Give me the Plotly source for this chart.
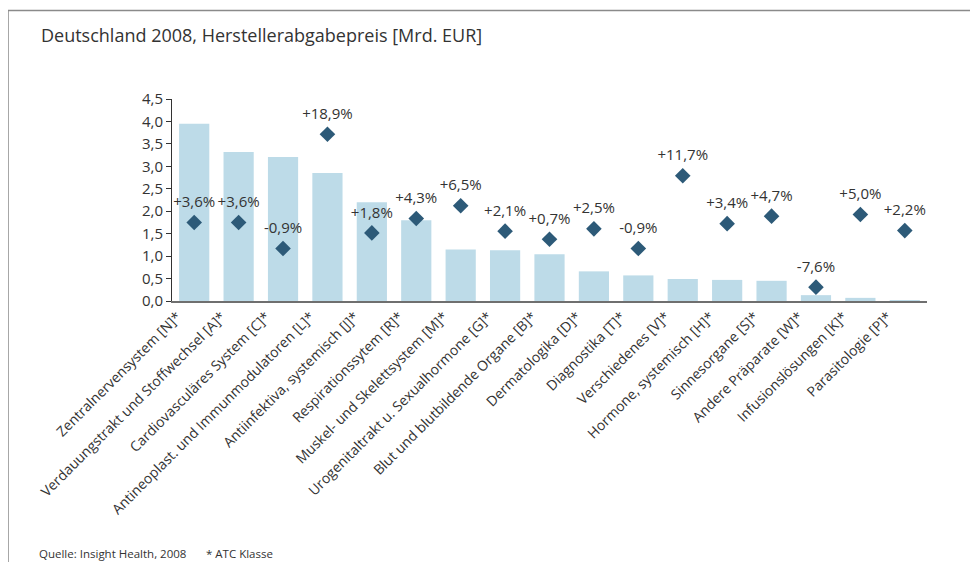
import plotly.graph_objects as go

categories = [
    "Zentralnervensystem [N]*",
    "Verdauungstrakt und Stoffwechsel [A]*",
    "Cardiovasculäres System [C]*",
    "Antineoplast. und Immunmodulatoren [L]*",
    "Antiinfektiva, systemisch [J]*",
    "Respirationssytem [R]*",
    "Muskel- und Skelettsystem [M]*",
    "Urogenitaltrakt u. Sexualhormone [G]*",
    "Blut und blutbildende Organe [B]*",
    "Dermatologika [D]*",
    "Diagnostika [T]*",
    "Verschiedenes [V]*",
    "Hormone, systemisch [H]*",
    "Sinnesorgane [S]*",
    "Andere Präparate [W]*",
    "Infusionslösungen [K]*",
    "Parasitologie [P]*",
]
umsatz = [3.95, 3.32, 3.21, 2.85, 2.20, 1.80, 1.15, 1.13, 1.04, 0.66, 0.57, 0.49, 0.47, 0.45, 0.13, 0.07, 0.02]
wachstum = [3.6, 3.6, -0.9, 18.9, 1.8, 4.3, 6.5, 2.1, 0.7, 2.5, -0.9, 11.7, 3.4, 4.7, -7.6, 5.0, 2.2]
wachstum_labels = [("+" if v >= 0 else "") + f"{v:.1f}".replace(".", ",") + "%" for v in wachstum]

FONT = "Open Sans"
TXT = "#333333"

fig = go.Figure()
fig.add_trace(go.Bar(
    x=categories, y=umsatz, marker_color="#bddbe8", marker_line_width=0,
    showlegend=False, hoverinfo="skip",
))
# labels (spacer markers give the gap above the diamonds)
fig.add_trace(go.Scatter(
    x=categories, y=wachstum, yaxis="y2", mode="markers+text",
    marker=dict(symbol="circle", size=17, opacity=0),
    text=wachstum_labels, textposition="top center",
    textfont=dict(family=FONT, size=15, color=TXT),
    showlegend=False, cliponaxis=False, hoverinfo="skip",
))
fig.add_trace(go.Scatter(
    x=categories, y=wachstum, yaxis="y2", mode="markers",
    marker=dict(symbol="diamond", size=12, color="#2d5a78"),
    showlegend=False, cliponaxis=False,
))

# screen offset of the page (body margin 8px)
OFF = 8
L, R, T, B = 172 - OFF, 51 + OFF, 99 - OFF, 261 + OFF
W, H = 978, 562
pw, ph = W - L - R, H - T - B

def px(x):
    # x in screen pixels
    return (x - OFF - L) / pw

def py(y):
    return (H - B - (y - OFF)) / ph

fig.update_layout(
    width=W, height=H,
    margin=dict(l=L, r=R, t=T, b=B),
    paper_bgcolor="white", plot_bgcolor="white",
    separators=",.",
    bargap=0.32,
    font=dict(family=FONT, color=TXT),
    xaxis=dict(
        tickangle=-45, tickfont=dict(family=FONT, size=14, color=TXT),
        showline=True, linecolor="#6f6f6f", linewidth=2,
        showgrid=False, ticks="", range=[-0.5, 16.5],
        ticklabelshift=-17,
    ),
    yaxis=dict(
        range=[0, 4.5], dtick=0.5, tickformat=".1f",
        tickfont=dict(family=FONT, size=15, color=TXT),
        showline=True, linecolor="#333333", linewidth=1,
        ticks="outside", ticklen=5, tickcolor="#333333",
        showgrid=False, zeroline=False,
    ),
    yaxis2=dict(range=[-10, 25], overlaying="y", visible=False),
    shapes=[
        dict(type="line", xref="paper", yref="paper",
             x0=px(8), x1=px(990), y0=py(10.5), y1=py(10.5),
             line=dict(color="#8a8a8a", width=1.5)),
        dict(type="line", xref="paper", yref="paper",
             x0=px(8), x1=px(8), y0=py(10.5), y1=py(580),
             line=dict(color="#8a8a8a", width=1.5)),
    ],
    annotations=[
        dict(text="Deutschland 2008, Herstellerabgabepreis [Mrd. EUR]",
             xref="paper", yref="paper", x=px(39), y=py(35),
             xanchor="left", yanchor="middle", showarrow=False,
             font=dict(family=FONT, size=18, color=TXT)),
        dict(text="Quelle: Insight Health, 2008", xref="paper", yref="paper",
             x=px(37), y=py(553.5), xanchor="left", yanchor="middle", showarrow=False,
             font=dict(family=FONT, size=11.5, color=TXT)),
        dict(text="* ATC Klasse", xref="paper", yref="paper",
             x=px(204), y=py(553.5), xanchor="left", yanchor="middle", showarrow=False,
             font=dict(family=FONT, size=11.5, color=TXT)),
    ],
)

fig.write_html("out.html")
